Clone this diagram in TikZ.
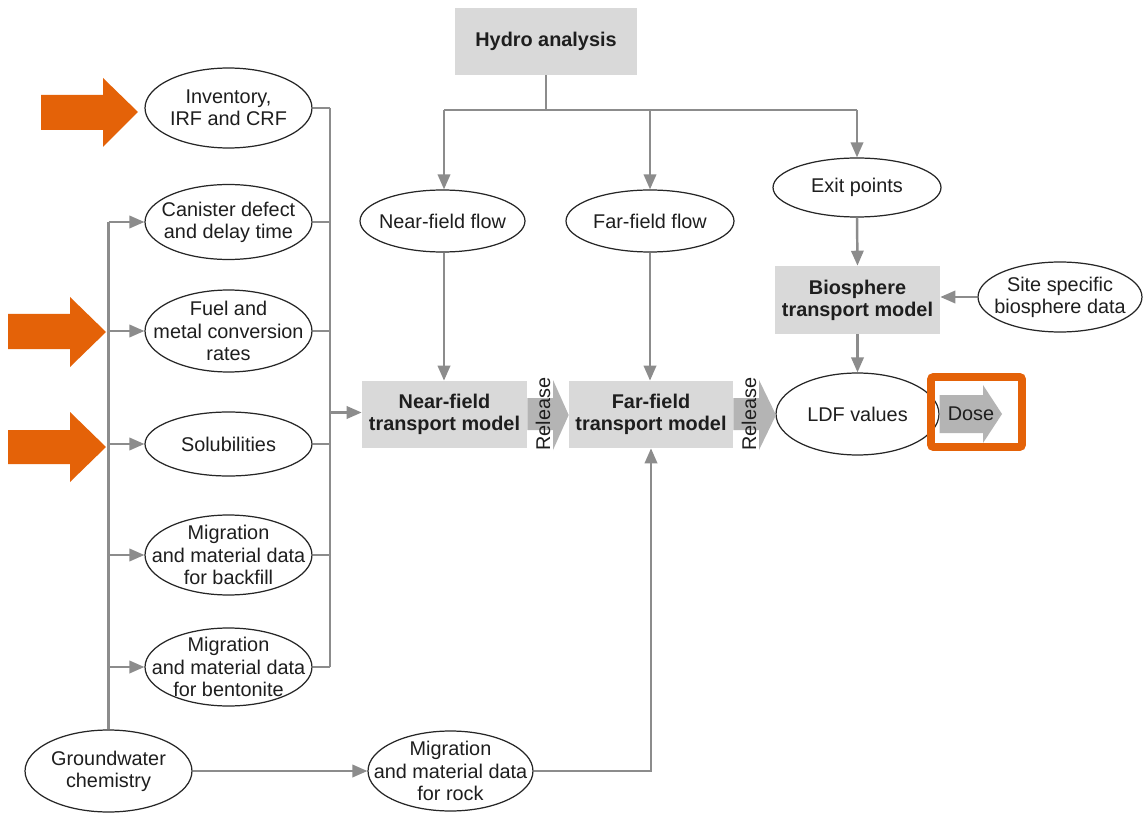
\documentclass[tikz,border=0pt]{standalone}
\usepackage{fontspec}
\setmainfont{Liberation Sans}
\usetikzlibrary{shapes.geometric,arrows.meta,calc}
\definecolor{boxgray}{RGB}{217,217,217}
\definecolor{linegray}{RGB}{140,140,140}
\definecolor{relgray}{RGB}{180,180,180}
\definecolor{orng}{RGB}{228,98,8}
\definecolor{txt}{RGB}{30,30,30}
\tikzset{
  ell/.style={ellipse,draw=black!85,line width=0.7pt,fill=white,inner sep=-14pt,align=center,
     text=txt,font=\fontsize{11.3}{12.6}\selectfont},
  gbox/.style={rectangle,fill=boxgray,inner sep=0pt,align=center,text=txt,
     font=\fontsize{11.3}{12.6}\selectfont\bfseries},
  conn/.style={draw=linegray,line width=1.4pt},
  arr/.style={conn,-{Triangle[length=8.5pt,width=7pt]}},
  blockarrow/.style={fill=relgray},
  orangearrow/.style={fill=orng},
  reltext/.style={rotate=90,text=txt,font=\fontsize{11.3}{12.6}\selectfont,inner sep=0pt}
}
\begin{document}
\begin{tikzpicture}[x=0.02cm,y=-0.02cm]
\useasboundingbox (0,0) rectangle (1143,814);
\fill[white] (0,0) rectangle (1143,814);

% boxes
\node[gbox,minimum width=3.64cm,minimum height=1.34cm] (hydro) at (546,41.5) {Hydro analysis};
\node[gbox,minimum width=3.3cm,minimum height=1.36cm] (bio) at (857.5,300) {Biosphere\\transport model};
\node[gbox,minimum width=3.3cm,minimum height=1.34cm] (nft) at (444.5,414.5) {Near-field\\transport model};
\node[gbox,minimum width=3.28cm,minimum height=1.34cm] (fft) at (651,414.5) {Far-field\\transport model};

% ellipses, left column
\node[ell,minimum width=3.34cm,minimum height=1.6cm] (inv) at (228.5,108) {Inventory,\\IRF and CRF};
\node[ell,minimum width=3.34cm,minimum height=1.5cm] (can) at (228.5,222) {Canister defect\\and delay time};
\node[ell,minimum width=3.34cm,minimum height=1.64cm] (fuel) at (228.5,331) {Fuel and\\metal conversion\\rates};
\node[ell,minimum width=3.34cm,minimum height=1.28cm] (sol) at (228.5,444) {Solubilities};
\node[ell,minimum width=3.34cm,minimum height=1.6cm] (bf) at (228.5,555) {Migration\\and material data\\for backfill};
\node[ell,minimum width=3.34cm,minimum height=1.56cm] (bent) at (228.5,667) {Migration\\and material data\\for bentonite};
\node[ell,minimum width=3.34cm,minimum height=1.64cm] (gw) at (108.5,771) {Groundwater\\chemistry};
\node[ell,minimum width=3.3cm,minimum height=1.6cm] (rock) at (450.5,771) {Migration\\and material data\\for rock};

% ellipses, upper middle/right
\node[ell,minimum width=3.3cm,minimum height=1.24cm] (nff) at (442.5,221) {Near-field flow};
\node[ell,minimum width=3.36cm,minimum height=1.24cm] (fff) at (650,221) {Far-field flow};
\node[ell,minimum width=3.36cm,minimum height=1.18cm] (exit) at (857,187.5) {Exit points};
\node[ell,minimum width=3.28cm,minimum height=1.4cm] (site) at (1060,297) {Site specific\\biosphere data};
\node[ell,minimum width=3.26cm,minimum height=1.64cm] (ldf) at (857.5,414) {LDF values};

% hydro distribution
\coordinate (hy) at (0,110);
\draw[conn] (hydro.south) -- (hydro.south |- hy);
\draw[conn] ([xshift=1.5*0.02cm]nff.north |- hy) -- (exit.north |- hy);
\draw[arr] ([xshift=1.5*0.02cm]nff.north |- hy) -- ([xshift=1.5*0.02cm]nff.north);
\draw[arr] (fff.north |- hy) -- (fff.north);
\draw[arr] (exit.north |- hy) -- (exit.north);

% vertical flows
\draw[arr] ([xshift=1.5*0.02cm]nff.south) -- ([xshift=1.5*0.02cm]nff.south |- nft.north);
\draw[arr] (fff.south) -- (fff.south |- fft.north);
\draw[arr] (exit.south) -- (bio.north);
\draw[arr] (site.west) -- (site.west -| bio.east);
\draw[arr] (bio.south) -- (ldf.north);

% right collector of left column
\coordinate (cx) at (330,0);
\foreach \n in {inv,can,fuel,sol,bf,bent} { \draw[conn] (\n.east) -- (\n.east -| cx); }
\draw[conn] (inv.east -| cx) -- (bent.east -| cx);
\draw[arr] ($(nft.west -| cx)+(0,-2)$) -- ($(nft.west)+(0,-2)$);

% left distributor
\coordinate (dx) at (108.5,0);
\draw[conn] (can.west -| dx) -- (gw.north);
\foreach \n in {can,fuel,sol,bf,bent} { \draw[arr] (\n.west -| dx) -- (\n.west); }

% rock
\draw[arr] (gw.east) -- (rock.west);
\draw[arr] (rock.east) -- (rock.east -| fft.south) -- (fft.south);

% release arrows
\fill[blockarrow] (nft.east |- 0,398) -- (553,398) -- (553,380) -- (fft.west |- 0,415) -- (553,450) -- (553,430) -- (nft.east |- 0,430) -- cycle;
\node[reltext] (rel1) at (543,414) {Release};
\fill[blockarrow] (fft.east |- 0,398) -- (759,398) -- (759,380) -- (776,415) -- (759,450) -- (759,430) -- (fft.east |- 0,430) -- cycle;
\node[reltext] (rel2) at (749,414) {Release};

% dose arrow
\fill[blockarrow] (ldf.east |- 0,395) -- (983,395) -- (983,385) -- (1002,414) -- (983,443) -- (983,433) -- (ldf.east |- 0,433) -- cycle;
\node[text=txt,font=\fontsize{11.3}{12.6}\selectfont,inner sep=0pt] (dose) at (971,414) {Dose};
\draw[orng,line width=4.5pt,rounded corners=1.5pt] (931,377) rectangle (1022,447);

% orange arrows
\fill[orangearrow] (41,95) -- (103,95) -- (103,78) -- (138,112) -- (103,147) -- (103,130) -- (41,130) -- cycle;
\fill[orangearrow] (8,314) -- (70,314) -- (70,297) -- (106,332) -- (70,367) -- (70,349) -- (8,349) -- cycle;
\fill[orangearrow] (8,430) -- (70,430) -- (70,412) -- (106,447) -- (70,482) -- (70,464) -- (8,464) -- cycle;
\end{tikzpicture}
\end{document}
